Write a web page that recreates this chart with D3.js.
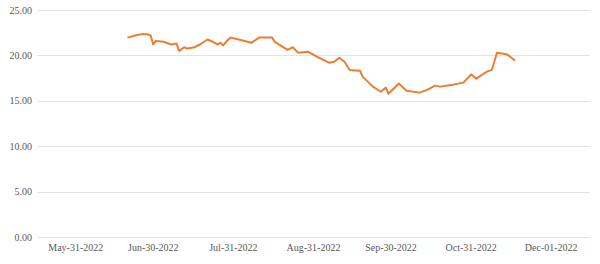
<!DOCTYPE html>
<html lang="en">
<head>
    <meta charset="UTF-8">
    <title>Price line</title>
    <script src="https://d3js.org/d3.v7.min.js"></script>
    <style>
        body { margin: 0; background: #fff; }
        svg { display: block; }
        .grid { stroke: #e3e3e3; stroke-width: 1; }
        .series { fill: none; stroke: #ED7D31; stroke-width: 2; stroke-linejoin: round; }
    </style>
</head>
<body>
    <svg id="chart" width="600" height="264"></svg>

    <script>
        // Data
        const dates = [
            "2022-06-20", "2022-06-23", "2022-06-26", "2022-06-28", "2022-06-29", "2022-06-30",
            "2022-07-01", "2022-07-04", "2022-07-07", "2022-07-09", "2022-07-10", "2022-07-12",
            "2022-07-13", "2022-07-16", "2022-07-18", "2022-07-21", "2022-07-23", "2022-07-25",
            "2022-07-26", "2022-07-27", "2022-07-29", "2022-07-30", "2022-08-02", "2022-08-07",
            "2022-08-10", "2022-08-15", "2022-08-16", "2022-08-21", "2022-08-23", "2022-08-25",
            "2022-08-29", "2022-09-02", "2022-09-06", "2022-09-08", "2022-09-10", "2022-09-12",
            "2022-09-14", "2022-09-18", "2022-09-19", "2022-09-23", "2022-09-26", "2022-09-28",
            "2022-09-29", "2022-10-03", "2022-10-06", "2022-10-11", "2022-10-14", "2022-10-17",
            "2022-10-19", "2022-10-24", "2022-10-28", "2022-10-31", "2022-11-02", "2022-11-06",
            "2022-11-08", "2022-11-10", "2022-11-12", "2022-11-14", "2022-11-17"
        ];
        const values = [
            21.96, 22.2, 22.37, 22.3, 22.2, 21.2,
            21.6, 21.5, 21.2, 21.3, 20.5, 20.9,
            20.75, 20.9, 21.2, 21.75, 21.5, 21.2,
            21.4, 21.1, 21.75, 21.96, 21.75, 21.4,
            21.96, 21.96, 21.5, 20.6, 20.9, 20.3,
            20.4, 19.75, 19.2, 19.3, 19.75, 19.3,
            18.4, 18.3, 17.66, 16.56, 16.0, 16.45,
            15.78, 16.9, 16.1, 15.9, 16.2, 16.67,
            16.56, 16.78, 17.0, 17.9, 17.44, 18.2,
            18.4, 20.3, 20.2, 20.1, 19.4
        ];
        const yTicks = [0, 5, 10, 15, 20, 25];
        const xTicks = ["2022-05-31", "2022-06-30", "2022-07-31", "2022-08-31", "2022-09-30", "2022-10-31", "2022-12-01"];

        const svg = d3.select("#chart");
        const parse = d3.timeParse("%Y-%m-%d");
        const fmt = d3.timeFormat("%b-%d-%Y");
        const labelFont = "'Liberation Serif', 'Times New Roman', 'DejaVu Serif', serif";

        const plot = { left: 37, right: 590, top: 10, bottom: 237 };

        const x = d3.scaleTime()
            .domain([parse("2022-05-16"), parse("2022-12-16")])
            .range([plot.left, plot.right]);
        const y = d3.scaleLinear()
            .domain([0, 25])
            .range([plot.bottom, plot.top]);

        // Gridlines
        svg.append("g")
            .selectAll("line")
            .data(yTicks)
            .join("line")
            .attr("class", "grid")
            .attr("x1", plot.left)
            .attr("x2", plot.right)
            .attr("y1", d => Math.round(y(d)) + 0.5)
            .attr("y2", d => Math.round(y(d)) + 0.5);

        // Y labels
        svg.append("g")
            .attr("font-family", labelFont)
            .attr("font-size", 10)
            .attr("fill", "#595959")
            .selectAll("text")
            .data(yTicks)
            .join("text")
            .attr("x", 32)
            .attr("y", d => y(d))
            .attr("dy", "0.35em")
            .attr("text-anchor", "end")
            .text(d => d.toFixed(2));

        // X labels
        svg.append("g")
            .attr("font-family", labelFont)
            .attr("font-size", 10)
            .attr("fill", "#595959")
            .selectAll("text")
            .data(xTicks.map(parse))
            .join("text")
            .attr("x", d => x(d))
            .attr("y", 251)
            .attr("text-anchor", "middle")
            .text(d => fmt(d));

        // Series
        const points = dates.map((d, i) => [parse(d), values[i]]);
        const line = d3.line()
            .x(d => x(d[0]))
            .y(d => y(d[1]));

        svg.append("path")
            .attr("class", "series")
            .attr("d", line(points));
    </script>
</body>
</html>
